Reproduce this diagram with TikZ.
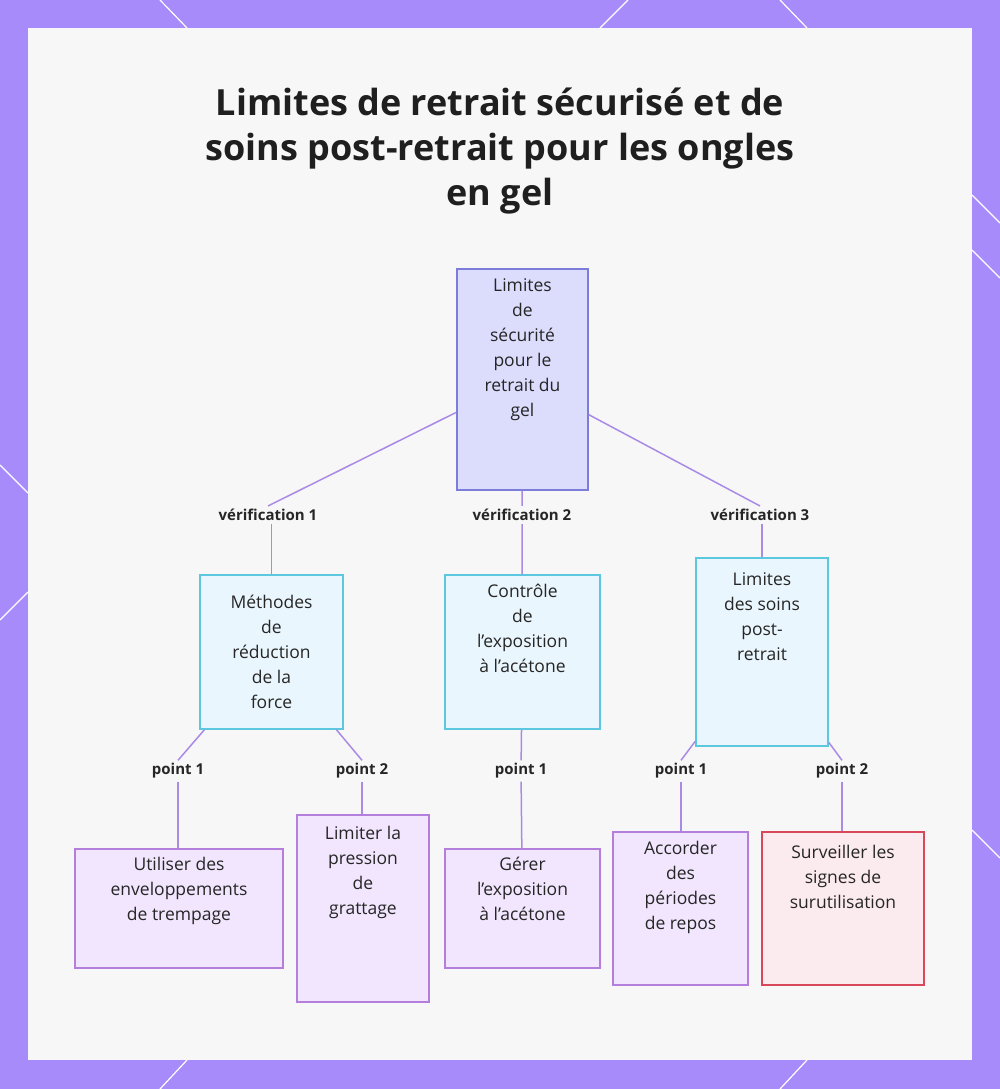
\documentclass[tikz,border=0pt]{standalone}
\usepackage{fontspec}
\setmainfont{Open Sans}
\usetikzlibrary{positioning}
\definecolor{frame}{HTML}{A78BFA}
\definecolor{edge}{HTML}{A98BE6}
\definecolor{rootfill}{HTML}{DCDCFC}
\definecolor{rootline}{HTML}{7C7CD9}
\definecolor{midfill}{HTML}{EAF6FD}
\definecolor{midline}{HTML}{5CC8E0}
\definecolor{leaffill}{HTML}{F1E6FD}
\definecolor{leafline}{HTML}{B47EDC}
\definecolor{warnfill}{HTML}{FCEBEE}
\definecolor{warnline}{HTML}{D8475A}
\begin{document}
\begin{tikzpicture}[x=1pt,y=-1pt,
    box/.style={draw,line width=1.5pt,align=center,inner sep=0pt,
        font=\fontsize{17.5}{25}\selectfont,text=black!85},
    rootbox/.style={box,fill=rootfill,draw=rootline},
    midbox/.style={box,fill=midfill,draw=midline},
    leafbox/.style={box,fill=leaffill,draw=leafline},
    warnbox/.style={box,fill=warnfill,draw=warnline},
    lab/.style={font=\bfseries\fontsize{15}{18}\selectfont,text=black!85,inner sep=3pt},
    link/.style={draw=edge,line width=1.5pt}]
    \useasboundingbox (0,0) rectangle (1000,1089);
    \fill[frame] (0,0) rectangle (1000,1089);
    \fill[black!3] (28,28) rectangle (972,1060);
    % border accents
    \foreach \a/\b/\c/\d in {160/0/187/28, 780/0/807/28, 600/28/628/0,
        0/465/28/493, 0/620/28/592, 972/195/1000/223, 972/250/1000/278,
        972/830/1000/858, 160/1089/187/1060, 780/1089/807/1060}
        \draw[white,line width=1.2pt] (\a,\b) -- (\c,\d);

    \node[font=\bfseries\fontsize{36}{45}\selectfont,align=center,text=black!88] (title) at (500,151)
        {Limites de retrait sécurisé et de\\soins post-retrait pour les ongles\\en gel};

    \node[rootbox,minimum width=131,minimum height=221] (root) at (522.5,379.5)
        {Limites\\de\\sécurité\\pour le\\retrait du\\gel\\[38pt]};

    \node[midbox,minimum width=143,minimum height=154] (force) at (271.5,652)
        {Méthodes\\de\\réduction\\de la\\force};
    \node[midbox,minimum width=155,minimum height=154] (acet) at (522.5,652)
        {Contrôle\\de\\l’exposition\\à l’acétone\\[23pt]};
    \node[midbox,minimum width=132,minimum height=188] (post) at (762,652)
        {Limites\\des soins\\post-\\retrait\\[46pt]};

    \node[leafbox,minimum width=208,minimum height=119] (wrap) at (179,908.5)
        {Utiliser des\\enveloppements\\de trempage\\[14pt]};
    \node[leafbox,minimum width=132,minimum height=187] (scrape) at (363,908.5)
        {Limiter la\\pression\\de\\grattage\\[52pt]};
    \node[leafbox,minimum width=155,minimum height=119] (expo) at (522.5,908.5)
        {Gérer\\l’exposition\\à l’acétone\\[15pt]};
    \node[leafbox,minimum width=135,minimum height=153] (rest) at (680.5,908.5)
        {Accorder\\des\\périodes\\de repos\\[21pt]};
    \node[warnbox,minimum width=162,minimum height=153] (watch) at (843,908.5)
        {Surveiller les\\signes de\\surutilisation\\[39pt]};

    \node[lab] (v1) at (268,515) {vérification 1};
    \node[lab] (v2) at (522,515) {vérification 2};
    \node[lab] (v3) at (760,515) {vérification 3};
    \node[lab] (p11) at (178,771) {point 1};
    \node[lab] (p12) at (362,771) {point 2};
    \node[lab] (p21) at (521,771) {point 1};
    \node[lab] (p31) at (681,771) {point 1};
    \node[lab] (p32) at (842,771) {point 2};

    \draw[link] (root) -- (v1.north);
    \draw[link] (root) -- (v2);
    \draw[link] (root) -- (v3.north);
    \draw[link] (v1.south -| force) -- (force);
    \draw[link] (v2) -- (acet);
    \draw[link] (v3.south -| post) -- (post);
    \draw[link] (force) -- (p11.north);
    \draw[link] (force) -- (p12.north);
    \draw[link] (acet) -- (p21);
    \draw[link] (post) -- (p31.north);
    \draw[link] (post) -- (p32.north);
    \draw[link] (p11.south) -- (p11.south |- wrap.north);
    \draw[link] (p12.south) -- (p12.south |- scrape.north);
    \draw[link] (p21) -- (expo);
    \draw[link] (p31.south) -- (p31.south |- rest.north);
    \draw[link] (p32.south) -- (p32.south |- watch.north);
\end{tikzpicture}
\end{document}
